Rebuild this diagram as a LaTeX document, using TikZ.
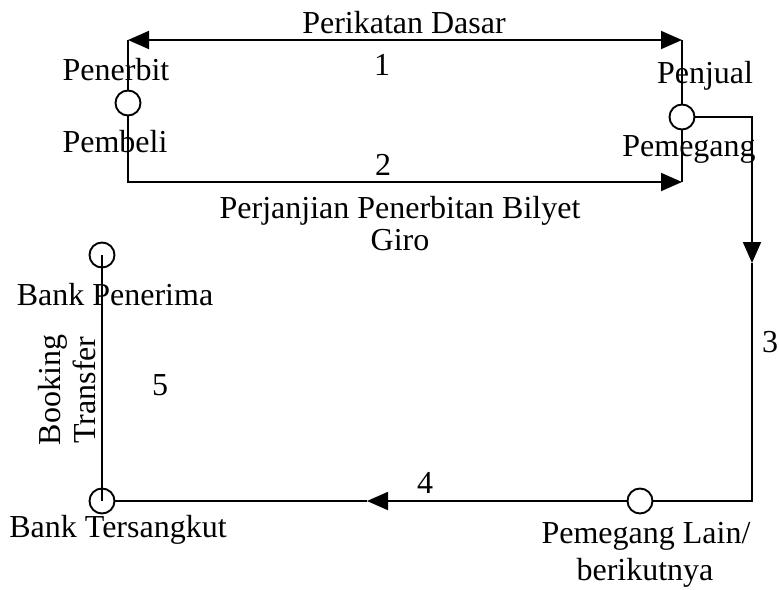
\documentclass[tikz,border=0pt]{standalone}
\usepackage{fontspec}
\setmainfont{Liberation Serif}
\usetikzlibrary{arrows.meta}
\begin{document}
\begin{tikzpicture}[x=1pt,y=-1pt,line width=1.9pt,
  dot/.style={circle,draw,line width=1.9pt,minimum size=25pt,inner sep=0pt},
  lbl/.style={font=\fontsize{32}{33}\selectfont,inner sep=0pt,anchor=base},
  tri/.style={-{Triangle[length=21pt,width=18pt]}}]
\useasboundingbox (0,0) rectangle (779,589);
% corner / turning points
\coordinate (tl) at (128,40);
\coordinate (tr) at (682,40);
\coordinate (bl) at (128,182);
\coordinate (br) at (682,182);
\coordinate (c1) at (752,117);
\coordinate (a3) at (752,263);
\coordinate (c2) at (752,501);
\coordinate (a4) at (367,501);
% circles
\node[dot,fill=white] (pen) at (128,103) {};
\node[dot,fill=white] (pem) at (682,117) {};
\node[dot] (bp) at (102,255) {};
\node[dot] (bt) at (102,501) {};
\node[dot,fill=white] (pl) at (640,501) {};
% connectors
\draw[{Triangle[length=21pt,width=18pt]}-{Triangle[length=21pt,width=18pt]}] (tl) -- (tr);
\draw (pen.north) -- (tl);
\draw (pem.north) -- (tr);
\draw (pem.south) -- (br);
\draw[tri] (pen.south) -- (bl) -- (br);
\draw[tri] (pem.east) -- (c1) -- (a3);
\draw (a3) -- (c2) -- (pl.east);
\draw[tri] (pl.west) -- (a4);
\draw (a4) -- (bt.east);
\draw (bp.center) -- (bt.center);
% labels
\node[lbl] (t1) at (404,33) {Perikatan Dasar};
\node[lbl] (n1) at (382,75) {1};
\node[lbl] (tpenerbit) at (116,80) {Penerbit};
\node[lbl] (tpembeli) at (115,152) {Pembeli};
\node[lbl] (tpenjual) at (705,83) {Penjual};
\node[lbl] (tpemegang) at (689,156) {Pemegang};
\node[lbl] (n2) at (383,175) {2};
\node[lbl] (t2a) at (400,218) {Perjanjian Penerbitan Bilyet};
\node[lbl] (t2b) at (400,250) {Giro};
\node[lbl] (n3) at (770,352) {3};
\node[lbl] (tbp) at (115,305) {Bank Penerima};
\node[lbl] (n5) at (160,395) {5};
\node[font=\fontsize{32}{35}\selectfont,inner sep=0pt,rotate=90,align=center] (tbook) at (67,390) {Booking\\Transfer};
\node[lbl] (tbt) at (118,537) {Bank Tersangkut};
\node[lbl] (n4) at (425,493) {4};
\node[lbl] (tpl1) at (646,543) {Pemegang Lain/};
\node[lbl] (tpl2) at (645,580) {berikutnya};
\end{tikzpicture}
\end{document}
